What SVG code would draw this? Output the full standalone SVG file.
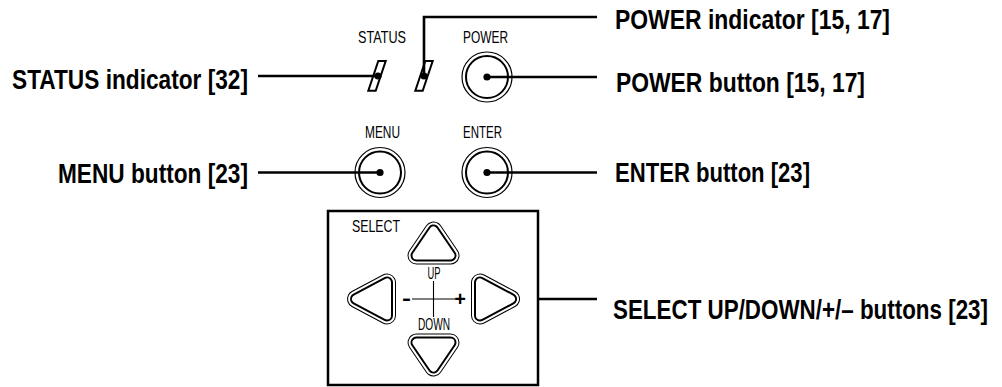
<svg xmlns="http://www.w3.org/2000/svg" xmlns:xlink="http://www.w3.org/1999/xlink" width="1002" height="387" viewBox="0 0 1002 387">
<style>
.lbl{font-family:"Liberation Sans",Arial,sans-serif;font-weight:bold;font-size:28px;fill:#000}
.sm{font-family:"Liberation Sans",Arial,sans-serif;font-size:17px;fill:#000}
.ln{fill:none;stroke:#000;stroke-width:2.6}
.dot{fill:#000}
.ro{fill:none;stroke:#000;stroke-width:1.2}
.ri{fill:#fff;stroke:#000;stroke-width:2}
.ind{fill:#fff;stroke:#000;stroke-width:2;stroke-linejoin:miter}
.t1{fill:#000;stroke:#000;stroke-width:18;stroke-linejoin:round}
.t2{fill:#fff;stroke:#fff;stroke-width:16;stroke-linejoin:round}
.t3{fill:#000;stroke:#000;stroke-width:12;stroke-linejoin:round}
.t4{fill:#fff;stroke:#fff;stroke-width:8;stroke-linejoin:round}
.thin{fill:none;stroke:#000;stroke-width:1.1}
</style>
<defs>
<path id="tv" d="M0,-12.5 L17,12.5 L-17,12.5 Z"/>
<path id="th" d="M-15.5,0 L15.5,-16.5 L15.5,16.5 Z"/>
<g id="triV"><use xlink:href="#tv" class="t1"/><use xlink:href="#tv" class="t2"/><use xlink:href="#tv" class="t3"/><use xlink:href="#tv" class="t4"/></g>
<g id="triH"><use xlink:href="#th" class="t1"/><use xlink:href="#th" class="t2"/><use xlink:href="#th" class="t3"/><use xlink:href="#th" class="t4"/></g>
</defs>
<rect width="1002" height="387" fill="#fff"/>

<g id="status-indicator">
<text class="sm" x="382" y="43" text-anchor="middle" textLength="48" lengthAdjust="spacingAndGlyphs">STATUS</text>
<polygon class="ind" points="378.3,61 385.7,61 375.7,90.7 368.3,90.7"/>
</g>
<g id="power-indicator">
<polygon class="ind" points="425.3,61 432.7,61 422.7,90.7 415.3,90.7"/>
</g>
<g id="power-button">
<text class="sm" x="485.5" y="43" text-anchor="middle" textLength="45" lengthAdjust="spacingAndGlyphs">POWER</text>
<circle class="ro" cx="487" cy="77" r="25"/>
<circle class="ri" cx="487" cy="77" r="21"/>
</g>
<g id="menu-button">
<text class="sm" x="382.5" y="138" text-anchor="middle" textLength="35" lengthAdjust="spacingAndGlyphs">MENU</text>
<circle class="ro" cx="380" cy="172.5" r="25"/>
<circle class="ri" cx="380" cy="172.5" r="21"/>
</g>
<g id="enter-button">
<text class="sm" x="482.5" y="138" text-anchor="middle" textLength="39" lengthAdjust="spacingAndGlyphs">ENTER</text>
<circle class="ro" cx="487" cy="172.5" r="25"/>
<circle class="ri" cx="487" cy="172.5" r="21"/>
</g>
<g id="select-panel">
<rect x="328" y="211" width="210" height="174" fill="none" stroke="#000" stroke-width="2.5"/>
<text class="sm" x="352" y="232" textLength="48" lengthAdjust="spacingAndGlyphs">SELECT</text>
<use xlink:href="#triV" transform="translate(433.5,243)"/>
<use xlink:href="#triV" transform="translate(433.5,355) rotate(180)"/>
<use xlink:href="#triH" transform="translate(371.5,299)"/>
<use xlink:href="#triH" transform="translate(495.5,299) scale(-1,1)"/>
<line class="thin" x1="433.5" y1="281" x2="433.5" y2="317"/>
<line class="thin" x1="412" y1="299" x2="455" y2="299"/>
<text class="sm" x="434" y="279" text-anchor="middle" textLength="13" lengthAdjust="spacingAndGlyphs">UP</text>
<text class="sm" x="434" y="330" text-anchor="middle" textLength="32" lengthAdjust="spacingAndGlyphs">DOWN</text>
<text class="sm" x="406.5" y="304.5" text-anchor="middle" textLength="9" lengthAdjust="spacingAndGlyphs" style="font-weight:bold;font-size:20px">-</text>
<text class="sm" x="460" y="306" text-anchor="middle" style="font-weight:bold;font-size:20px">+</text>
</g>

<g id="connectors">
<line class="ln" x1="258" y1="76" x2="378" y2="76"/>
<polyline class="ln" points="424,76 424,17 597,17"/>
<line class="ln" x1="487" y1="77" x2="597" y2="77"/>
<line class="ln" x1="258" y1="172.5" x2="380" y2="172.5"/>
<line class="ln" x1="487" y1="172.5" x2="597" y2="172.5"/>
<line class="ln" x1="538" y1="299" x2="597" y2="299"/>
<circle class="dot" cx="378" cy="76" r="3.6"/>
<circle class="dot" cx="424" cy="76" r="3.6"/>
<circle class="dot" cx="487" cy="77" r="3.6"/>
<circle class="dot" cx="380" cy="172.5" r="3.6"/>
<circle class="dot" cx="487" cy="172.5" r="3.6"/>
</g>

<g id="labels">
<text class="lbl" transform="translate(248,89) scale(0.8,1)" text-anchor="end" textLength="295" lengthAdjust="spacingAndGlyphs">STATUS indicator [32]</text>
<text class="lbl" transform="translate(248,183) scale(0.8,1)" text-anchor="end" textLength="237.5" lengthAdjust="spacingAndGlyphs">MENU button [23]</text>
<text class="lbl" transform="translate(615,29) scale(0.8,1)" textLength="343.75" lengthAdjust="spacingAndGlyphs">POWER indicator [15, 17]</text>
<text class="lbl" transform="translate(616,92) scale(0.8,1)" textLength="311.25" lengthAdjust="spacingAndGlyphs">POWER button [15, 17]</text>
<text class="lbl" transform="translate(615,182) scale(0.8,1)" textLength="243.75" lengthAdjust="spacingAndGlyphs">ENTER button [23]</text>
<text class="lbl" transform="translate(613,319) scale(0.8,1)" textLength="468.75" lengthAdjust="spacingAndGlyphs">SELECT UP/DOWN/+/– buttons [23]</text>
</g>
</svg>
